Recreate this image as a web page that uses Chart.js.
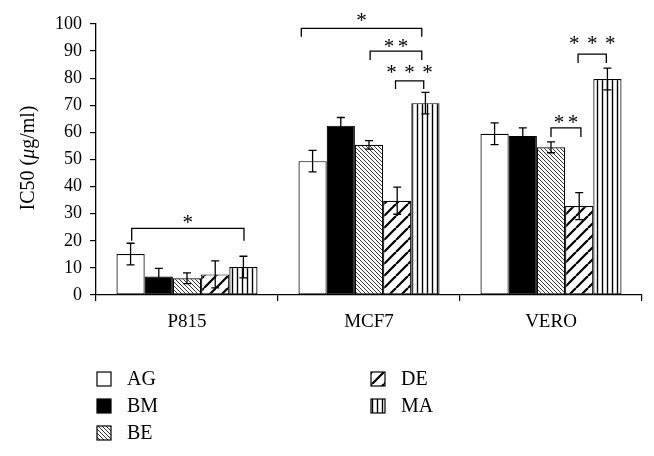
<!DOCTYPE html>
<html>
<head>
<meta charset="utf-8">
<script src="https://cdn.jsdelivr.net/npm/chart.js@4.4.1/dist/chart.umd.min.js"></script>
<style>
  html, body { margin: 0; padding: 0; background: #fff; }
  #wrap { width: 654px; height: 456px; }
</style>
</head>
<body>
<div id="wrap"><canvas id="ic50-chart" width="654" height="456"></canvas></div>
<script>
// Data
const cellLines = ['P815', 'MCF7', 'VERO'];
const extracts = ['AG', 'BM', 'BE', 'DE', 'MA'];
const agValues = [15.1, 49.4, 59.5];
const bmValues = [6.8, 62.5, 58.7];
const beValues = [6.2, 55.4, 54.5];
const deValues = [7.6, 34.8, 32.8];
const maValues = [10.3, 70.8, 79.7];
const agErrors = [4, 4, 4];
const bmErrors = [3, 3, 3];
const beErrors = [2, 1.6, 2];
const deErrors = [5, 5, 5];
const maErrors = [4, 4, 4];
const yTicks = [0, 10, 20, 30, 40, 50, 60, 70, 80, 90, 100];

// significance brackets: category, bar span, bracket level, end level, star level
const brackets = [
    { cat: 0, from: 0.04, to: 4.02, level: 24.6, end: 20.0, starAt: 28.0, stars: 1 },
    { cat: 1, from: -0.4, to: 3.87, level: 98.4, end: 95.3, starAt: 102.6, stars: 1 },
    { cat: 1, from: 2.04, to: 3.87, level: 90.0, end: 86.7, starAt: 93.1, stars: 2 },
    { cat: 1, from: 2.94, to: 3.94, level: 79.0, end: 76.0, starAt: 83.4, stars: 3 },
    { cat: 2, from: 2.0, to: 3.06, level: 61.7, end: 58.3, starAt: 65.0, stars: 2 },
    { cat: 2, from: 2.96, to: 3.96, level: 88.9, end: 85.6, starAt: 94.1, stars: 3 }
];

const SERIF = '"Liberation Serif", "DejaVu Serif", serif';

function makePattern(size, draw) {
    const c = document.createElement('canvas');
    c.width = size; c.height = size;
    const g = c.getContext('2d');
    g.fillStyle = '#fff';
    g.fillRect(0, 0, size, size);
    g.strokeStyle = '#000';
    draw(g, size);
    return g.createPattern(c, 'repeat');
}

const beFill = makePattern(4, (g, s) => {
    g.lineWidth = 0.8;
    for (let k = -1; k <= 1; k++) {
        g.beginPath();
        g.moveTo(k * s, 0);
        g.lineTo(k * s + s, s);
        g.stroke();
    }
});
const deFill = makePattern(12, (g, s) => {
    g.lineWidth = 2.2;
    for (let k = -1; k <= 1; k++) {
        g.beginPath();
        g.moveTo(k * s, s);
        g.lineTo(k * s + s, 0);
        g.stroke();
    }
});
const maFill = makePattern(5, (g, s) => {
    g.lineWidth = 1.4;
    g.beginPath();
    g.moveTo(2.5, 0);
    g.lineTo(2.5, s);
    g.stroke();
});

const fills = ['#ffffff', '#000000', beFill, deFill, maFill];
const seriesValues = [agValues, bmValues, beValues, deValues, maValues];
const seriesErrors = [agErrors, bmErrors, beErrors, deErrors, maErrors];

// Error bars
const errorBars = {
    id: 'errorBars',
    afterDatasetsDraw(chart) {
        const ctx = chart.ctx;
        const y = chart.scales.y;
        ctx.save();
        ctx.strokeStyle = '#000';
        ctx.lineWidth = 1.3;
        chart.data.datasets.forEach((ds, i) => {
            const meta = chart.getDatasetMeta(i);
            meta.data.forEach((bar, j) => {
                const v = ds.data[j];
                const e = seriesErrors[i][j];
                const top = y.getPixelForValue(v + e);
                const bot = y.getPixelForValue(v - e);
                ctx.beginPath();
                ctx.moveTo(bar.x, top); ctx.lineTo(bar.x, bot);
                ctx.moveTo(bar.x - 4, top); ctx.lineTo(bar.x + 4, top);
                ctx.moveTo(bar.x - 4, bot); ctx.lineTo(bar.x + 4, bot);
                ctx.stroke();
            });
        });
        ctx.restore();
    }
};

// Brackets with stars
const sigBrackets = {
    id: 'sigBrackets',
    afterDraw(chart) {
        const ctx = chart.ctx;
        const x = chart.scales.x;
        const y = chart.scales.y;
        const barW = chart.getDatasetMeta(0).data[0].width;
        ctx.save();
        ctx.strokeStyle = '#000';
        ctx.fillStyle = '#000';
        ctx.lineWidth = 1.3;
        ctx.font = '21px ' + SERIF;
        ctx.textAlign = 'center';
        const m = ctx.measureText('*');
        const half = (m.actualBoundingBoxAscent - m.actualBoundingBoxDescent) / 2;
        brackets.forEach(b => {
            const c = x.getPixelForValue(b.cat);
            const x1 = c + (b.from - 2) * barW;
            const x2 = c + (b.to - 2) * barW;
            const yl = y.getPixelForValue(b.level);
            const ye = y.getPixelForValue(b.end);
            ctx.beginPath();
            ctx.moveTo(x1, ye); ctx.lineTo(x1, yl); ctx.lineTo(x2, yl); ctx.lineTo(x2, ye);
            ctx.stroke();
            const gap = b.stars === 3 ? 18 : 14;
            const mid = (x1 + x2) / 2;
            const ys = y.getPixelForValue(b.starAt) + half;
            for (let k = 0; k < b.stars; k++) {
                ctx.fillText('*', mid + (k - (b.stars - 1) / 2) * gap, ys);
            }
        });
        ctx.restore();
    }
};

// Y title with italic mu, and two-column legend
const titleAndLegend = {
    id: 'titleAndLegend',
    afterDraw(chart) {
        const ctx = chart.ctx;
        ctx.save();
        ctx.fillStyle = '#000';
        // axis title
        const parts = [['IC50 (', 'normal'], ['\u03bc', 'italic'], ['g/ml)', 'normal']];
        let total = 0;
        parts.forEach(p => { ctx.font = p[1] + ' 20px ' + SERIF; total += ctx.measureText(p[0]).width; });
        ctx.translate(29, 158);
        ctx.rotate(-Math.PI / 2);
        ctx.textBaseline = 'middle';
        let px = -total / 2;
        parts.forEach(p => {
            ctx.font = p[1] + ' 20px ' + SERIF;
            ctx.fillText(p[0], px, 0);
            px += ctx.measureText(p[0]).width;
        });
        ctx.restore();

        // legend
        ctx.save();
        ctx.font = '20px ' + SERIF;
        ctx.textBaseline = 'middle';
        const slots = [[97, 379], [97, 406], [97, 433], [371, 379], [371, 406]];
        chart.data.datasets.forEach((ds, i) => {
            const [lx, ly] = slots[i];
            ctx.fillStyle = ds.backgroundColor;
            ctx.fillRect(lx, ly - 7, 14, 14);
            ctx.strokeStyle = '#000';
            ctx.lineWidth = 1.2;
            ctx.strokeRect(lx, ly - 7, 14, 14);
            ctx.fillStyle = '#000';
            ctx.fillText(ds.label, lx + 30, ly + 1);
        });
        ctx.restore();
    }
};

const ctx = document.getElementById('ic50-chart').getContext('2d');
const ic50Chart = new Chart(ctx, {
    type: 'bar',
    data: {
        labels: cellLines,
        datasets: extracts.map((name, i) => ({
            label: name,
            data: seriesValues[i],
            backgroundColor: fills[i],
            borderColor: '#000',
            borderWidth: 1.2,
            borderSkipped: false,
            categoryPercentage: 0.775,
            barPercentage: 1.0
        }))
    },
    options: {
        responsive: false,
        animation: false,
        events: [],
        layout: { padding: { top: 24, right: 12, left: 0, bottom: 0 } },
        scales: {
            x: {
                afterFit: s => { s.height = 161; },
                grid: {
                    offset: true,
                    drawOnChartArea: false,
                    drawTicks: true,
                    tickLength: 6,
                    color: '#000',
                    lineWidth: 1.2
                },
                border: { display: true, color: '#000', width: 1.3 },
                ticks: { color: '#000', padding: 10, font: { family: SERIF, size: 19 } }
            },
            y: {
                min: 0,
                max: 100,
                afterFit: s => { s.width = 96; },
                afterBuildTicks: s => { s.ticks = yTicks.map(v => ({ value: v })); },
                grid: {
                    drawOnChartArea: false,
                    drawTicks: true,
                    tickLength: 6,
                    color: '#000',
                    lineWidth: 1.2
                },
                border: { display: true, color: '#000', width: 1.3 },
                ticks: { color: '#000', padding: 8, font: { family: SERIF, size: 18 } }
            }
        },
        plugins: {
            legend: { display: false },
            tooltip: { enabled: false }
        }
    },
    plugins: [errorBars, sigBrackets, titleAndLegend]
});
</script>
</body>
</html>
